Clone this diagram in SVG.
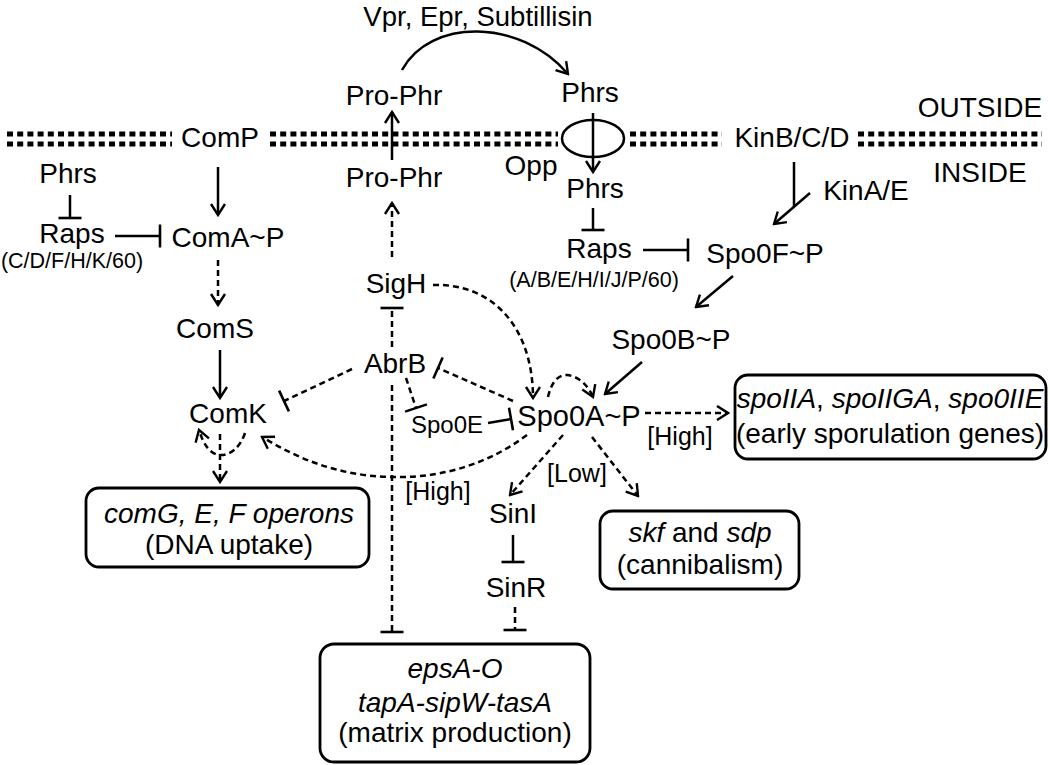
<svg xmlns="http://www.w3.org/2000/svg" width="1050" height="765" viewBox="0 0 1050 765">
<style>
text{font-family:"Liberation Sans",Arial,sans-serif;font-size:28px;fill:#000;text-anchor:middle}
.sm{font-size:21.5px}
.md{font-size:25px}
.it{font-style:italic}
.ln{fill:none;stroke:#000;stroke-width:2.5}
.ds{stroke-dasharray:6 4}
.box{fill:#fff;stroke:#000;stroke-width:2.8}
.mem{fill:none;stroke:#000;stroke-width:5;stroke-dasharray:6 4.2}
</style>
<defs>
<marker id="ah" viewBox="-13 -9 15 18" refX="0" refY="0" markerWidth="15" markerHeight="18" markerUnits="userSpaceOnUse" orient="auto"><path d="M-11,-7 L0,0 L-11,7" fill="none" stroke="#000" stroke-width="2.4"/></marker>
<marker id="bar" viewBox="-3 -13 6 26" refX="0" refY="0" markerWidth="6" markerHeight="26" markerUnits="userSpaceOnUse" orient="auto"><path d="M0,-11.5 L0,11.5" stroke="#000" stroke-width="2.6"/></marker>
</defs>
<rect width="1050" height="765" fill="#fff"/>

<g id="membrane">
<path class="mem" d="M7,134 H172 M7,144 H172 M270,134 H558 M270,144 H558 M630,134 H722 M630,144 H722 M858,134 H1042 M858,144 H1042"/>
<ellipse id="Opp-channel" cx="593" cy="138.5" rx="31" ry="18.5" fill="none" stroke="#000" stroke-width="2.5"/>
<text x="980" y="117">OUTSIDE</text>
<text x="980" y="182">INSIDE</text>
</g>

<g id="connectors">
<path class="ln" d="M402,70 C430,18 520,18 568,74" marker-end="url(#ah)"/>
<path class="ln" d="M392,160 L392,112" marker-end="url(#ah)"/>
<path class="ln ds" d="M392,257 L392,203" marker-end="url(#ah)"/>
<path class="ln" d="M593,113 L593,172" marker-end="url(#ah)"/>
<path class="ln" d="M593,208 L593,230" marker-end="url(#bar)"/>
<path class="ln" d="M643,250 L688,250" marker-end="url(#bar)"/>
<path class="ln" d="M794,162 L794,207"/>
<path class="ln" d="M810,193 L774,224" marker-end="url(#ah)"/>
<path class="ln" d="M733,276 L696,307" marker-end="url(#ah)"/>
<path class="ln" d="M642,362 L605,394" marker-end="url(#ah)"/>
<path class="ln" d="M70,195 L70,218" marker-end="url(#bar)"/>
<path class="ln" d="M115,236 L160,236" marker-end="url(#bar)"/>
<path class="ln" d="M218,167 L218,215" marker-end="url(#ah)"/>
<path class="ln ds" d="M218,260 L218,305" marker-end="url(#ah)"/>
<path class="ln" d="M220,350 L220,398" marker-end="url(#ah)"/>
<path class="ln ds" d="M220,434 L220,482" marker-end="url(#ah)"/>
<path class="ln ds" d="M245,433 C240,448 230,455 221,455 C211,455 204,446 199,430" marker-end="url(#ah)"/>
<path class="ln ds" d="M352,369 L284,401" marker-end="url(#bar)"/>
<path class="ln ds" d="M392,347 L392,308" marker-end="url(#bar)"/>
<path class="ln ds" d="M392,385 L392,632" marker-end="url(#bar)"/>
<path class="ln ds" d="M406,378 L416,408" marker-end="url(#bar)"/>
<path class="ln" d="M488,423 L511,419" marker-end="url(#bar)"/>
<path class="ln ds" d="M513,401 L438,368" marker-end="url(#bar)"/>
<path class="ln ds" d="M433,285 C495,283 533,330 533,398" marker-end="url(#ah)"/>
<path class="ln ds" d="M548,397 C552,380 559,375 567,375 C578,376 588,385 593,397" marker-end="url(#ah)"/>
<path class="ln ds" d="M527,435 C480,470 430,478 392,477 C340,476 300,460 262,437" marker-end="url(#ah)"/>
<path class="ln ds" d="M645,413 L728,413" marker-end="url(#ah)"/>
<path class="ln ds" d="M563,435 L510,495" marker-end="url(#ah)"/>
<path class="ln ds" d="M592,437 L638,496" marker-end="url(#ah)"/>
<path class="ln" d="M513,535 L513,562" marker-end="url(#bar)"/>
<path class="ln ds" d="M515,607 L515,630" marker-end="url(#bar)"/>
</g>

<g id="proteases"><text x="478" y="26" style="font-size:27.5px">Vpr, Epr, Subtillisin</text></g>
<g id="ProPhr-out"><text x="394" y="105">Pro-Phr</text></g>
<g id="Phrs-out"><text x="590" y="102">Phrs</text></g>
<g id="ComP"><text x="220" y="147">ComP</text></g>
<g id="KinBCD"><text x="792" y="147">KinB/C/D</text></g>
<g id="ProPhr-in"><text x="394" y="187">Pro-Phr</text></g>
<g id="Phrs-left"><text x="68" y="183">Phrs</text></g>
<g id="Opp"><text x="531" y="175">Opp</text></g>
<g id="Phrs-in"><text x="595" y="198">Phrs</text></g>
<g id="KinAE"><text x="866" y="200">KinA/E</text></g>
<g id="Raps-left"><text x="72" y="243">Raps</text><text class="sm" x="72" y="268">(C/D/F/H/K/60)</text></g>
<g id="ComA"><text x="228" y="247">ComA~P</text></g>
<g id="Raps-right"><text x="599" y="258">Raps</text><text class="sm" x="594" y="287">(A/B/E/H/I/J/P/60)</text></g>
<g id="Spo0F"><text x="765" y="263">Spo0F~P</text></g>
<g id="SigH"><text x="396" y="293">SigH</text></g>
<g id="ComS"><text x="215" y="338">ComS</text></g>
<g id="Spo0B"><text x="671" y="349">Spo0B~P</text></g>
<g id="AbrB"><text x="395" y="373">AbrB</text></g>
<g id="ComK"><text x="228" y="423">ComK</text></g>
<g id="Spo0E"><text x="447" y="433" style="font-size:24px">Spo0E</text></g>
<g id="Spo0A"><text x="579" y="426" style="font-size:29px">Spo0A~P</text></g>
<g id="label-high-right"><text class="md" x="680" y="445">[High]</text></g>
<g id="label-low"><text class="md" x="577" y="482">[Low]</text></g>
<g id="label-high-low"><text class="md" x="438" y="500">[High]</text></g>
<g id="SinI"><text x="513" y="523">SinI</text></g>
<g id="SinR"><text x="516" y="597">SinR</text></g>

<g id="box-com">
<rect class="box" x="86" y="488" width="283" height="79" rx="13"/>
<text class="it" x="229" y="523">comG, E, F operons</text>
<text x="229" y="554">(DNA uptake)</text>
</g>
<g id="box-early">
<rect class="box" x="735" y="375" width="311" height="84" rx="13"/>
<text x="890" y="408"><tspan class="it">spoIIA</tspan>, <tspan class="it">spoIIGA</tspan>, <tspan class="it">spo0IIE</tspan></text>
<text x="890" y="443">(early sporulation genes)</text>
</g>
<g id="box-cannibalism">
<rect class="box" x="600" y="511" width="199" height="78" rx="13"/>
<text x="700" y="542"><tspan class="it">skf</tspan> and <tspan class="it">sdp</tspan></text>
<text x="700" y="574">(cannibalism)</text>
</g>
<g id="box-matrix">
<rect class="box" x="320" y="644" width="270" height="118" rx="14"/>
<text class="it" x="455" y="678">epsA-O</text>
<text class="it" x="455" y="712">tapA-sipW-tasA</text>
<text x="455" y="742">(matrix production)</text>
</g>
</svg>
